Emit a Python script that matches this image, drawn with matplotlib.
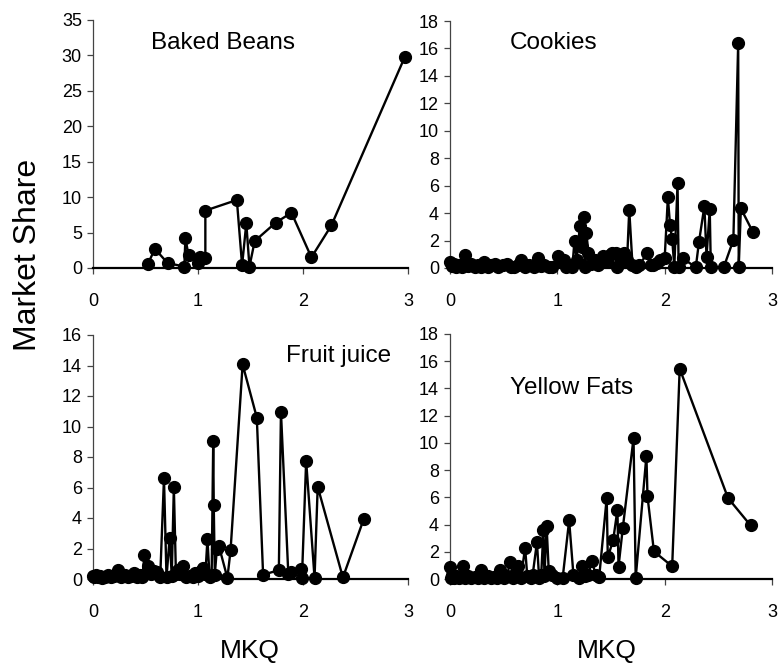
import matplotlib
matplotlib.use('Agg')
import matplotlib.pyplot as plt

plt.rcParams['font.family'] = ['Liberation Sans', 'DejaVu Sans']

# Baked Beans
bb_x = [0.52, 0.59, 0.71, 0.87, 0.88, 0.91, 1.00, 1.02, 1.07, 1.07, 1.37, 1.42,
        1.46, 1.49, 1.54, 1.74, 1.89, 2.08, 2.27, 2.97]
bb_y = [0.5, 2.7, 0.7, 0.2, 4.2, 1.8, 0.7, 1.6, 1.4, 8.1, 9.6, 0.4,
        6.3, 0.2, 3.8, 6.4, 7.8, 1.5, 6.0, 29.8]

# Cookies
ck_x = [0.00, 0.02, 0.04, 0.06, 0.08, 0.11, 0.14, 0.17, 0.20, 0.23, 0.26, 0.29,
        0.32, 0.35, 0.38, 0.42, 0.45, 0.49, 0.53, 0.57, 0.60, 0.63, 0.66, 0.70,
        0.74, 0.78, 0.82, 0.85, 0.88, 0.92, 0.95, 1.01, 1.04, 1.06, 1.08, 1.10,
        1.14, 1.16, 1.18, 1.21, 1.23, 1.25, 1.26, 1.27, 1.29, 1.31, 1.35, 1.38,
        1.40, 1.43, 1.46, 1.49, 1.51, 1.545, 1.56, 1.58, 1.60, 1.62, 1.65, 1.67,
        1.70, 1.73, 1.76, 1.84, 1.87, 1.89, 1.93, 1.96, 2.00, 2.03, 2.05, 2.07,
        2.09, 2.12, 2.13, 2.17, 2.29, 2.32, 2.37, 2.39, 2.42, 2.43, 2.55, 2.64,
        2.685, 2.69, 2.71, 2.82]
ck_y = [0.45, 0.15, 0.3, 0.1, 0.25, 0.05, 0.95, 0.15, 0.3, 0.1, 0.2, 0.05,
        0.45, 0.1, 0.25, 0.3, 0.05, 0.2, 0.3, 0.1, 0.05, 0.2, 0.58, 0.1,
        0.25, 0.05, 0.7, 0.15, 0.25, 0.05, 0.05, 0.87, 0.5, 0.58, 0.05, 0.2,
        0.1, 2.0, 0.6, 3.06, 1.55, 3.74, 0.1, 2.57, 1.12, 0.3, 0.6, 0.2,
        0.5, 0.87, 0.5, 0.95, 1.07, 1.07, 0.1, 0.34, 0.83, 1.1, 0.6, 4.24,
        0.24, 0.1, 0.2, 1.07, 0.2, 0.2, 0.34, 0.6, 0.7, 5.15, 3.13, 2.09,
        0.1, 6.17, 0.1, 0.7, 0.05, 1.92, 4.5, 0.83, 4.27, 0.05, 0.05, 2.04,
        16.4, 0.05, 4.34, 2.65]

# Fruit juice
fj_x = [0.00, 0.01, 0.03, 0.05, 0.07, 0.09, 0.11, 0.14, 0.17, 0.20, 0.24, 0.27,
        0.30, 0.33, 0.36, 0.39, 0.42, 0.45, 0.47, 0.49, 0.52, 0.55, 0.58, 0.61,
        0.64, 0.676, 0.70, 0.73, 0.75, 0.77, 0.79, 0.81, 0.83, 0.86, 0.89, 0.92,
        0.95, 0.97, 1.00, 1.03, 1.05, 1.07, 1.09, 1.11, 1.13, 1.145, 1.15, 1.16,
        1.18, 1.20, 1.28, 1.31, 1.425, 1.56, 1.62, 1.77, 1.79, 1.86, 1.89, 1.98,
        1.99, 2.03, 2.11, 2.14, 2.38, 2.58]
fj_y = [0.2, 0.1, 0.25, 0.1, 0.2, 0.05, 0.15, 0.28, 0.1, 0.2, 0.61, 0.15,
        0.25, 0.1, 0.2, 0.39, 0.1, 0.25, 0.1, 1.57, 0.83, 0.35, 0.5, 0.45,
        0.1, 6.62, 0.1, 2.72, 0.2, 6.01, 0.3, 0.6, 0.3, 0.87, 0.1, 0.2,
        0.1, 0.39, 0.2, 0.5, 0.75, 0.3, 2.61, 0.15, 0.25, 9.04, 4.86, 0.28,
        2.0, 2.14, 0.07, 1.87, 14.07, 10.59, 0.28, 0.58, 10.96, 0.35, 0.43, 0.65,
        0.07, 7.75, 0.07, 6.05, 0.1, 3.96]

# Yellow Fats
yf_x = [0.00, 0.01, 0.02, 0.04, 0.06, 0.08, 0.10, 0.125, 0.14, 0.17, 0.20, 0.23,
        0.26, 0.29, 0.32, 0.35, 0.38, 0.41, 0.44, 0.47, 0.50, 0.53, 0.56, 0.59,
        0.61, 0.63, 0.66, 0.70, 0.72, 0.75, 0.77, 0.81, 0.83, 0.85, 0.87, 0.88,
        0.90, 0.92, 0.95, 1.00, 1.05, 1.11, 1.15, 1.20, 1.23, 1.26, 1.29, 1.32,
        1.36, 1.39, 1.46, 1.47, 1.52, 1.56, 1.57, 1.61, 1.71, 1.73, 1.83, 1.84,
        1.90, 2.07, 2.14, 2.59, 2.80]
yf_y = [0.88, 0.1, 0.3, 0.1, 0.2, 0.05, 0.15, 0.98, 0.1, 0.2, 0.05, 0.15,
        0.1, 0.65, 0.1, 0.2, 0.05, 0.15, 0.1, 0.68, 0.1, 0.2, 1.25, 0.1,
        0.35, 0.93, 0.1, 2.28, 0.2, 0.1, 0.3, 2.7, 0.1, 0.3, 3.6, 0.2,
        3.9, 0.6, 0.3, 0.1, 0.1, 4.3, 0.3, 0.1, 0.93, 0.2, 0.3, 1.3,
        0.3, 0.15, 5.95, 1.6, 2.84, 5.1, 0.9, 3.75, 10.35, 0.07, 9.05, 6.07,
        2.03, 0.93, 15.45, 5.95, 3.94]

W, H = 781, 669
fig = plt.figure(figsize=(W / 100, H / 100), dpi=100)


def px_axes(x0, x1, ytop, ybot):
    return fig.add_axes([x0 / W, 1 - ybot / H, (x1 - x0) / W, (ybot - ytop) / H])


def style(ax, ymax, ystep):
    ax.set_xlim(0, 3)
    ax.set_ylim(0, ymax)
    ax.set_xticks([0, 1, 2, 3])
    ax.set_yticks(range(0, ymax + 1, ystep))
    for s in ['top', 'right']:
        ax.spines[s].set_visible(False)
    ax.spines['left'].set_color('#444444')
    ax.spines['left'].set_linewidth(0.9)
    ax.spines['bottom'].set_color('black')
    ax.spines['bottom'].set_linewidth(1.6)
    ax.tick_params(axis='both', direction='out', length=4, width=0.9,
                   labelsize=13, colors='#444444', labelcolor='black')
    ax.tick_params(axis='x', pad=14)
    ax.tick_params(axis='y', pad=4)


panels = [
    (bb_x, bb_y, 'Baked Beans', (93, 408, 20, 268), 35, 5, (0.413, 0.907)),
    (ck_x, ck_y, 'Cookies', (450, 772, 21, 268), 18, 2, (0.323, 0.909)),
    (fj_x, fj_y, 'Fruit juice', (93, 408, 335, 579), 16, 2, (0.778, 0.914)),
    (yf_x, yf_y, 'Yellow Fats', (450, 772, 334, 579), 18, 2, (0.378, 0.78)),
]

for xs, ys, name, box, ymax, ystep, tpos in panels:
    ax = px_axes(*box)
    ax.plot(xs, ys, '-o', color='black', lw=1.7, ms=8.5, clip_on=False, zorder=3)
    style(ax, ymax, ystep)
    ax.text(tpos[0], tpos[1], name, transform=ax.transAxes, ha='center',
            va='center', fontsize=17.5)

fig.text(28 / W, 1 - 255 / H, 'Market Share', rotation=90, ha='center',
         va='center', fontsize=23)
fig.text(250 / W, 1 - 651 / H, 'MKQ', ha='center', va='center', fontsize=19)
fig.text(607 / W, 1 - 651 / H, 'MKQ', ha='center', va='center', fontsize=19)

fig.savefig('out.png', dpi=100)
